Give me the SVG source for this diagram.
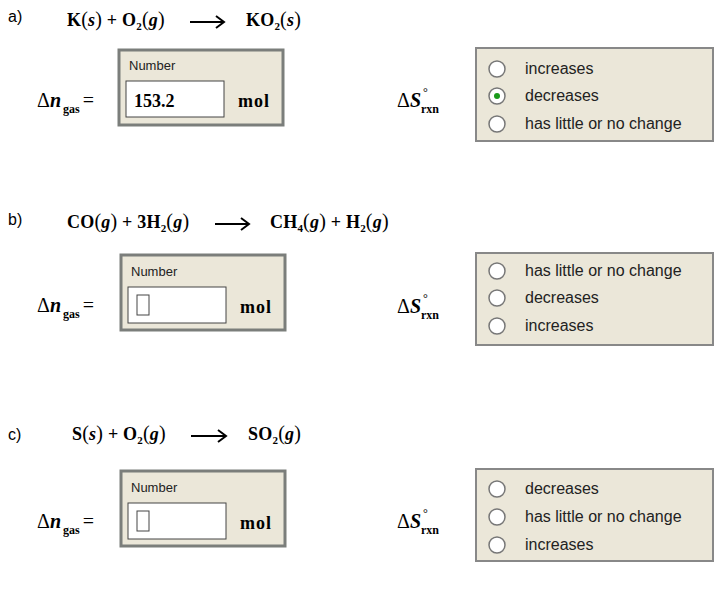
<svg xmlns="http://www.w3.org/2000/svg" width="727" height="591" viewBox="0 0 727 591">
<style>
.lbl{font-family:"Liberation Sans",Arial,sans-serif;font-size:16px;fill:#000}
.eq{font-family:"Liberation Serif","Times New Roman",serif;font-size:18px;font-weight:bold;fill:#000;letter-spacing:0.2px}
.p{font-weight:normal;font-size:20px}
.it{font-style:italic}
.sub{font-size:11px}
.dl{font-family:"Liberation Serif","Times New Roman",serif;font-size:20px;fill:#000}
.box{fill:#ebe7d9;stroke:#7b7e7b;stroke-width:3}
.inp{fill:#fff;stroke:#444;stroke-width:1}
.num{font-family:"Liberation Sans",Arial,sans-serif;font-size:13px;fill:#222}
.opt{font-family:"Liberation Sans",Arial,sans-serif;font-size:16px;fill:#222}
.rb{fill:#fff;stroke:#777;stroke-width:1.5}
.rbox{fill:#ebe7d9;stroke:#888;stroke-width:2}
.arr{stroke:#000;stroke-width:2;fill:none}
</style>
<defs>
<g id="dn"><text class="dl" x="0" y="0">Δ<tspan class="it" font-weight="bold">n</tspan><tspan font-size="12" font-weight="bold" dy="6" dx="2">gas</tspan><tspan dy="-6" dx="3">=</tspan></text></g>
<g id="ds"><text class="dl" x="0" y="0">Δ<tspan class="it" font-weight="bold">S</tspan><tspan font-size="12" font-weight="bold" dy="6">rxn</tspan></text><text class="dl" x="26" y="-11" style="font-size:12px">°</text></g>
</defs>

<g id="a">
<text class="lbl" x="8" y="22">a)</text>
<text class="eq" x="67" y="26">K<tspan class="p">(</tspan><tspan class="it">s</tspan><tspan class="p">)</tspan> + O<tspan class="sub" dy="4">2</tspan><tspan class="p" dy="-4">(</tspan><tspan class="it">g</tspan><tspan class="p">)</tspan></text>
<path class="arr" d="M190 22 H224 M216 16 L224 22 L216 28"/>
<text class="eq" x="246" y="26">KO<tspan class="sub" dy="4">2</tspan><tspan class="p" dy="-4">(</tspan><tspan class="it">s</tspan><tspan class="p">)</tspan></text>
<use href="#dn" x="37" y="107"/>
<rect class="box" x="119" y="50" width="164" height="75"/>
<text class="num" x="129" y="70">Number</text>
<rect class="inp" x="126" y="81" width="98" height="36"/>
<text class="eq" x="134" y="107" style="letter-spacing:0">153.2</text>
<text class="eq" x="238" y="107" style="letter-spacing:1px">mol</text>
<use href="#ds" x="397" y="107"/>
<rect class="rbox" x="476" y="48" width="237" height="93"/>
<circle class="rb" cx="497" cy="69" r="8"/><text class="opt" x="525" y="74">increases</text>
<circle class="rb" cx="497" cy="96" r="8"/><circle cx="497" cy="96" r="3" fill="#1a9a1a"/><text class="opt" x="525" y="101">decreases</text>
<circle class="rb" cx="497" cy="124" r="8"/><text class="opt" x="525" y="129">has little or no change</text>
</g>

<g id="b">
<text class="lbl" x="8" y="225">b)</text>
<text class="eq" x="67" y="228">CO<tspan class="p">(</tspan><tspan class="it">g</tspan><tspan class="p">)</tspan> + 3H<tspan class="sub" dy="4">2</tspan><tspan class="p" dy="-4">(</tspan><tspan class="it">g</tspan><tspan class="p">)</tspan></text>
<path class="arr" d="M215 224 H249 M241 218 L249 224 L241 230"/>
<text class="eq" x="270" y="228">CH<tspan class="sub" dy="4">4</tspan><tspan class="p" dy="-4">(</tspan><tspan class="it">g</tspan><tspan class="p">)</tspan> + H<tspan class="sub" dy="4">2</tspan><tspan class="p" dy="-4">(</tspan><tspan class="it">g</tspan><tspan class="p">)</tspan></text>
<use href="#dn" x="37" y="312"/>
<rect class="box" x="121" y="255" width="164" height="75"/>
<text class="num" x="131" y="276">Number</text>
<rect class="inp" x="128" y="287" width="98" height="36"/>
<rect class="inp" x="137" y="295" width="12" height="20"/>
<text class="eq" x="240" y="313" style="letter-spacing:1px">mol</text>
<use href="#ds" x="397" y="313"/>
<rect class="rbox" x="476" y="253" width="237" height="92"/>
<circle class="rb" cx="497" cy="271" r="8"/><text class="opt" x="525" y="276">has little or no change</text>
<circle class="rb" cx="497" cy="298" r="8"/><text class="opt" x="525" y="303">decreases</text>
<circle class="rb" cx="497" cy="326" r="8"/><text class="opt" x="525" y="331">increases</text>
</g>

<g id="c">
<text class="lbl" x="8" y="440">c)</text>
<text class="eq" x="72" y="440">S<tspan class="p">(</tspan><tspan class="it">s</tspan><tspan class="p">)</tspan> + O<tspan class="sub" dy="4">2</tspan><tspan class="p" dy="-4">(</tspan><tspan class="it">g</tspan><tspan class="p">)</tspan></text>
<path class="arr" d="M191 436 H226 M218 430 L226 436 L218 442"/>
<text class="eq" x="248" y="440">SO<tspan class="sub" dy="4">2</tspan><tspan class="p" dy="-4">(</tspan><tspan class="it">g</tspan><tspan class="p">)</tspan></text>
<use href="#dn" x="37" y="528"/>
<rect class="box" x="121" y="471" width="164" height="75"/>
<text class="num" x="131" y="492">Number</text>
<rect class="inp" x="128" y="503" width="98" height="36"/>
<rect class="inp" x="137" y="511" width="12" height="20"/>
<text class="eq" x="240" y="529" style="letter-spacing:1px">mol</text>
<use href="#ds" x="397" y="528"/>
<rect class="rbox" x="476" y="469" width="237" height="92"/>
<circle class="rb" cx="497" cy="489" r="8"/><text class="opt" x="525" y="494">decreases</text>
<circle class="rb" cx="497" cy="517" r="8"/><text class="opt" x="525" y="522">has little or no change</text>
<circle class="rb" cx="497" cy="545" r="8"/><text class="opt" x="525" y="550">increases</text>
</g>
</svg>
